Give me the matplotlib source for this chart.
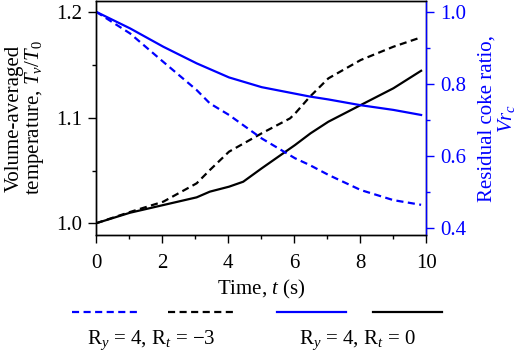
import matplotlib
matplotlib.use("Agg")
import matplotlib.pyplot as plt
from matplotlib.ticker import MultipleLocator

plt.rcParams['font.family'] = ['Liberation Serif', 'DejaVu Serif']
plt.rcParams['mathtext.fontset'] = 'custom'
plt.rcParams['mathtext.rm'] = 'Liberation Serif'
plt.rcParams['mathtext.it'] = 'Liberation Serif:italic'
plt.rcParams['font.size'] = 15

BLUE = '#0000ff'

# temperature T_v/T_0 (left axis)
t_temp_rt3 = [0, 1.03, 2.04, 3.05, 3.45, 4.03, 5.02, 5.88, 6.03, 6.48, 7.04, 8.02, 9.01, 9.85]
temp_rt3 = [1.0, 1.0107, 1.0205, 1.0379, 1.0505, 1.0679, 1.0853, 1.0995, 1.104, 1.12, 1.1374, 1.1548, 1.1674, 1.1763]

t_temp_rt0 = [0, 1.03, 2.04, 3.05, 3.45, 4.03, 4.46, 5.02, 6.03, 6.5, 7.04, 8.02, 9.01, 9.85]
temp_rt0 = [1.0, 1.010, 1.0173, 1.0246, 1.030, 1.0347, 1.0394, 1.0521, 1.0742, 1.0853, 1.0963, 1.1121, 1.128, 1.1446]

# residual coke ratio Vr_c (right axis)
t_vr_rt3 = [0, 1.03, 2.04, 3.05, 3.45, 4.03, 5.02, 6.03, 6.48, 7.04, 8.02, 9.01, 9.85]
vr_rt3 = [1.0, 0.940, 0.861, 0.783, 0.746, 0.714, 0.649, 0.594, 0.575, 0.548, 0.506, 0.478, 0.465]

t_vr_rt0 = [0, 1.03, 2.04, 3.05, 4.03, 5.02, 6.03, 6.48, 7.04, 8.02, 9.01, 9.85]
vr_rt0 = [1.0, 0.954, 0.903, 0.857, 0.818, 0.791, 0.773, 0.765, 0.757, 0.741, 0.728, 0.714]

fig = plt.figure(figsize=(5.26, 3.52), dpi=100)
ax = fig.add_axes([0.1825, 0.3324, 0.6275, 0.6646])
ax2 = ax.twinx()

lw = 1.6
dash = (3.2, 2.0)
l_vr3, = ax2.plot(t_vr_rt3, vr_rt3, color=BLUE, lw=lw, dashes=dash)
l_t3, = ax.plot(t_temp_rt3, temp_rt3, color='black', lw=lw, dashes=dash)
l_vr0, = ax2.plot(t_vr_rt0, vr_rt0, color=BLUE, lw=lw)
l_t0, = ax.plot(t_temp_rt0, temp_rt0, color='black', lw=lw)

ax.set_xlim(0, 10)
ax.set_ylim(0.9889, 1.2107)
ax2.set_ylim(0.3814, 1.0296)

ax.xaxis.set_major_locator(MultipleLocator(2))
ax.xaxis.set_minor_locator(MultipleLocator(1))
ax.yaxis.set_major_locator(MultipleLocator(0.1))
ax.yaxis.set_minor_locator(MultipleLocator(0.05))
ax.yaxis.set_major_formatter(matplotlib.ticker.FormatStrFormatter('%.1f'))
ax2.yaxis.set_major_locator(MultipleLocator(0.2))
ax2.yaxis.set_minor_locator(MultipleLocator(0.1))
ax2.yaxis.set_major_formatter(matplotlib.ticker.FormatStrFormatter('%.1f'))

for a in (ax, ax2):
    for s in a.spines.values():
        s.set_linewidth(1.0)
    a.tick_params(which='major', direction='out', length=6, width=1.0, pad=4)
    a.tick_params(which='minor', direction='out', length=3, width=1.0)
ax.tick_params(axis='x', pad=8)

ax2.spines['right'].set_color(BLUE)
ax2.tick_params(axis='y', which='both', colors=BLUE)

ax.set_xlabel('Time, $t$ (s)', labelpad=3)
ax.set_ylabel('Volume-averaged\ntemperature, $T_v/T_0$', labelpad=7, linespacing=1.0)
ax2.set_ylabel('Residual coke ratio,\n$Vr_c$', color=BLUE, labelpad=8, linespacing=1.0)

leg_kw = dict(ncol=2, frameon=False, handlelength=3.3, handletextpad=0,
              columnspacing=1.3, borderpad=0, loc='center')
fig.legend([l_vr3, l_t3], ['', ''], bbox_to_anchor=(0.293, 0.106), **leg_kw)
fig.legend([l_vr0, l_t0], ['', ''], bbox_to_anchor=(0.683, 0.106), **leg_kw)
fig.text(0.287, 0.032, 'R$_y$ = 4, R$_t$ = \u22123', ha='center', va='center')
fig.text(0.679, 0.032, 'R$_y$ = 4, R$_t$ = 0', ha='center', va='center')

fig.savefig('out.png', dpi=100)
